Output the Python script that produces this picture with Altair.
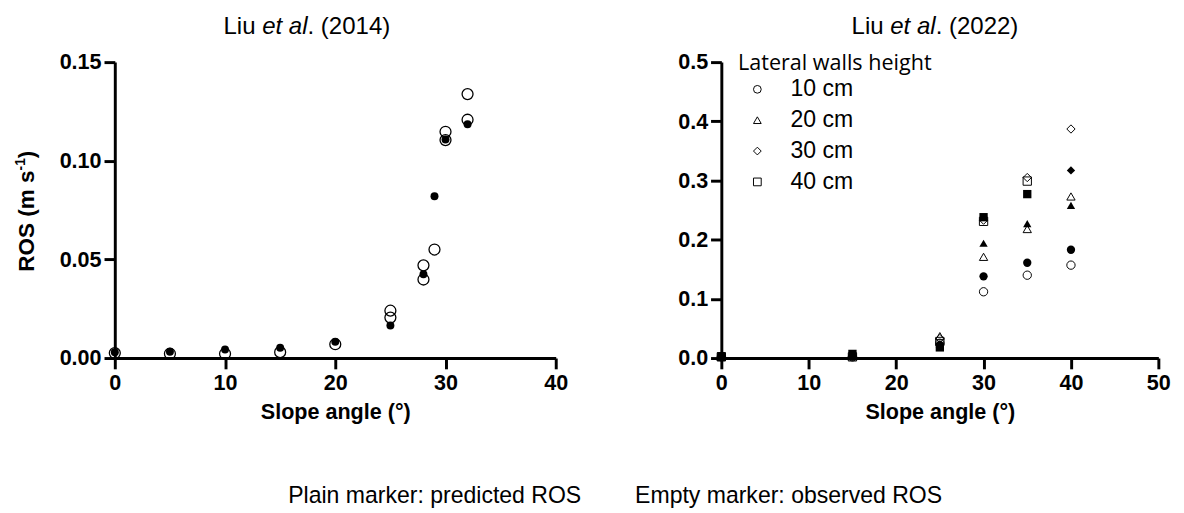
import altair as alt
import pandas as pd

# ---------------- data: Liu et al. (2014) ----------------
l_x_obs = [0, 5, 10, 15, 20, 25, 25, 28, 28, 29, 30, 30, 32, 32]
l_y_obs = [0.0025, 0.0022, 0.0022, 0.0030, 0.0070, 0.0240, 0.0205, 0.0470,
           0.0398, 0.0550, 0.1147, 0.1105, 0.1338, 0.1208]
l_x_pred = [0, 5, 10, 15, 20, 25, 28, 29, 30, 32]
l_y_pred = [0.0030, 0.0032, 0.0043, 0.0052, 0.0083, 0.0165, 0.0425, 0.0820,
            0.1108, 0.1185]

# ---------------- data: Liu et al. (2022) ----------------
heights = ["10 cm", "20 cm", "30 cm", "40 cm"]
shapes = ["circle", "triangle-up", "diamond", "square"]

obs_10_x = [0, 15, 25, 30, 35, 40]
obs_10_y = [0.002, 0.002, 0.025, 0.112, 0.140, 0.157]
obs_20_x = [0, 15, 25, 30, 35, 40]
obs_20_y = [0.002, 0.003, 0.037, 0.171, 0.218, 0.273]
obs_30_x = [0, 15, 25, 30, 35, 40]
obs_30_y = [0.002, 0.003, 0.033, 0.233, 0.305, 0.387]
obs_40_x = [0, 15, 25, 30, 35]
obs_40_y = [0.002, 0.002, 0.028, 0.231, 0.299]

pred_10_x = [0, 15, 25, 30, 35, 40]
pred_10_y = [0.003, 0.004, 0.022, 0.138, 0.161, 0.183]
pred_20_x = [0, 15, 25, 30, 35, 40]
pred_20_y = [0.003, 0.004, 0.024, 0.194, 0.227, 0.258]
pred_30_x = [0, 40]
pred_30_y = [0.003, 0.317]
pred_40_x = [0, 15, 25, 30, 35]
pred_40_y = [0.003, 0.007, 0.018, 0.238, 0.277]

left_ticks_x = [0, 10, 20, 30, 40]
left_ticks_y = [0.0, 0.05, 0.10, 0.15]
right_ticks_x = [0, 10, 20, 30, 40, 50]
right_ticks_y = [0.0, 0.1, 0.2, 0.3, 0.4, 0.5]

title_left = ["Liu ", "et al", ". (2014)"]
title_right = ["Liu ", "et al", ". (2022)"]
ytitle = ["ROS (m s", "-1", ")"]
xtitle = "Slope angle (°)"
legend_title = "Lateral walls height"
notes = ["Plain marker: predicted ROS", "Empty marker: observed ROS"]

# ---------------- tables ----------------
df_l_obs = pd.DataFrame({"x": l_x_obs, "y": l_y_obs})
df_l_pred = pd.DataFrame({"x": l_x_pred, "y": l_y_pred})


def build(groups):
    rows = []
    for h, xs, ys in groups:
        for a, b in zip(xs, ys):
            rows.append({"x": a, "y": b, "h": h})
    return pd.DataFrame(rows)


df_r_obs = build([("10 cm", obs_10_x, obs_10_y), ("20 cm", obs_20_x, obs_20_y),
                  ("30 cm", obs_30_x, obs_30_y), ("40 cm", obs_40_x, obs_40_y)])
df_r_pred = build([("30 cm", pred_30_x, pred_30_y), ("10 cm", pred_10_x, pred_10_y),
                   ("20 cm", pred_20_x, pred_20_y), ("40 cm", pred_40_x, pred_40_y)])

FONT = "Liberation Sans"
W1, H1 = 450, 302
W2, H2 = 446, 302
TFS = 24.5  # title font size


def xaxis(vals):
    return alt.Axis(values=vals, format="d", title=xtitle, titleFont=FONT,
                    titleFontSize=22, titleFontWeight="bold", titleColor="black",
                    titlePadding=9, labelFont=FONT, labelFontSize=22,
                    labelFontWeight="bold", labelColor="black", labelPadding=4,
                    domainColor="black", domainWidth=3, tickColor="black",
                    tickWidth=3, tickSize=11, grid=False, labelFlush=False)


def yaxis(vals, fmt):
    return alt.Axis(values=vals, format=fmt, title=None, labelFont=FONT,
                    labelFontSize=22, labelFontWeight="bold", labelColor="black",
                    labelPadding=3, domainColor="black", domainWidth=3,
                    tickColor="black", tickWidth=3, tickSize=11, grid=False)


def title_layers(parts, cx, y):
    F = TFS
    wa = 1.612 * F
    wb = 1.89 * F
    wc = 3.446 * F
    start = cx - (wa + wb + wc) / 2
    out = []
    for txt, off, style in [(parts[0], 0, "normal"), (parts[1], wa, "italic"),
                            (parts[2], wa + wb, "normal")]:
        out.append(
            alt.Chart(pd.DataFrame({"t": [txt]})).mark_text(
                font=FONT, fontSize=F, fontStyle=style, align="left",
                baseline="middle", color="black"
            ).encode(x=alt.value(start + off), y=alt.value(y), text="t:N")
        )
    return out


# ---------------- left panel ----------------
lx = alt.X("x:Q", scale=alt.Scale(domain=[0, 40], nice=False), axis=xaxis(left_ticks_x))
ly = alt.Y("y:Q", scale=alt.Scale(domain=[0, 0.15], nice=False),
           axis=yaxis(left_ticks_y, ".2f"))

l_open = alt.Chart(df_l_obs).mark_point(
    shape="circle", filled=False, size=125, stroke="black", strokeWidth=1.3,
    opacity=1).encode(x=lx, y=ly)
l_fill = alt.Chart(df_l_pred).mark_point(
    shape="circle", filled=True, size=66, color="black", opacity=1).encode(x=lx, y=ly)

# y-axis title pieces (rotated)
YF = 23
Y0 = 214
YX = -89
y_main = alt.Chart(pd.DataFrame({"t": [ytitle[0]]})).mark_text(
    font=FONT, fontSize=YF, fontWeight="bold", angle=270, align="left",
    baseline="middle", color="black").encode(x=alt.value(YX), y=alt.value(Y0), text="t:N")
y_sup = alt.Chart(pd.DataFrame({"t": [ytitle[1]]})).mark_text(
    font=FONT, fontSize=14, fontWeight="bold", angle=270, align="left",
    baseline="middle", color="black").encode(x=alt.value(YX - 7),
                                             y=alt.value(Y0 - 4.501 * YF), text="t:N")
y_par = alt.Chart(pd.DataFrame({"t": [ytitle[2]]})).mark_text(
    font=FONT, fontSize=YF, fontWeight="bold", angle=270, align="left",
    baseline="middle", color="black").encode(
    x=alt.value(YX), y=alt.value(Y0 - 4.501 * YF - 0.889 * 14), text="t:N")

notes_df = pd.DataFrame({"t": notes, "xx": [177, 531]})
note_layer = alt.Chart(notes_df).mark_text(
    font=FONT, fontSize=23.5, align="left", baseline="middle", color="black"
).encode(x=alt.X("xx:Q", scale=None), y=alt.value(443), text="t:N")

left = alt.layer(l_open, l_fill, y_main, y_sup, y_par, note_layer,
                 *title_layers(title_left, 196, -36)).properties(width=W1, height=H1)

# ---------------- right panel ----------------
rx = alt.X("x:Q", scale=alt.Scale(domain=[0, 50], nice=False), axis=xaxis(right_ticks_x))
ry = alt.Y("y:Q", scale=alt.Scale(domain=[0, 0.5], nice=False),
           axis=yaxis(right_ticks_y, ".1f"))

r_fill = alt.Chart(df_r_pred).mark_point(filled=True, size=72, color="black",
                                         opacity=1).encode(
    x=rx, y=ry,
    shape=alt.Shape("h:N", scale=alt.Scale(domain=heights, range=shapes), legend=None))
r_open = alt.Chart(df_r_obs).mark_point(filled=False, size=72, stroke="black",
                                        strokeWidth=1, opacity=1).encode(
    x=rx, y=ry,
    shape=alt.Shape("h:N", scale=alt.Scale(domain=heights, range=shapes),
                    legend=alt.Legend(orient="none", legendX=25, legendY=16, title=None,
                                      labelFont=FONT, labelFontSize=23.5, labelColor="black",
                                      labelOffset=22, symbolSize=62, symbolStrokeWidth=1,
                                      symbolStrokeColor="black", symbolFillColor="white",
                                      rowPadding=6.5, padding=0)))

leg_title = alt.Chart(pd.DataFrame({"t": [legend_title]})).mark_text(
    font="Open Sans", fontSize=22, align="left", baseline="middle", color="black"
).encode(x=alt.value(17), y=alt.value(1), text="t:N")

right = alt.layer(r_open, r_fill, leg_title,
                  *title_layers(title_right, 218, -36)).properties(width=W2, height=H2)

chart = alt.hconcat(left, right, spacing=169, bounds="flush").properties(
    padding={"left": 6, "top": 1, "right": 5, "bottom": 5}
).configure_view(stroke=None).resolve_scale(shape="independent")

chart.save("out.html", embed_options={"renderer": "svg", "actions": False})
